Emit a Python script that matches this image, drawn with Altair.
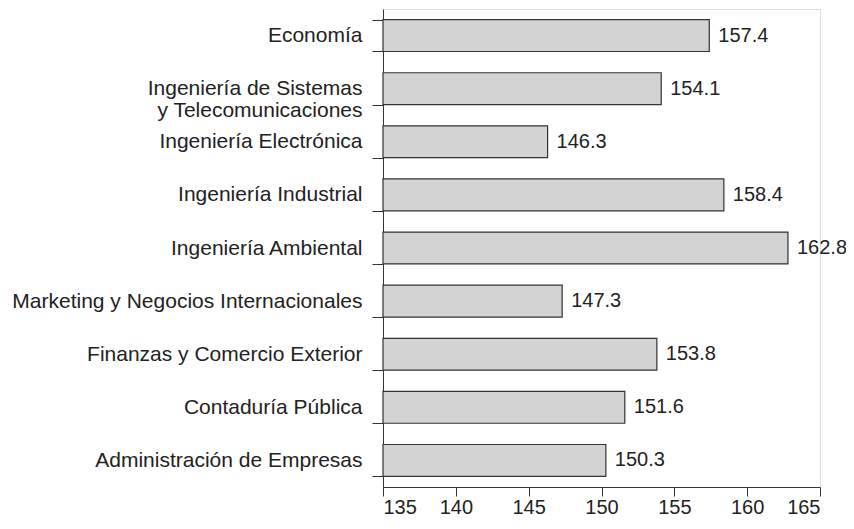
import altair as alt
import pandas as pd

categories = [
    "Economía",
    "Ingeniería de Sistemas|y Telecomunicaciones",
    "Ingeniería Electrónica",
    "Ingeniería Industrial",
    "Ingeniería Ambiental",
    "Marketing y Negocios Internacionales",
    "Finanzas y Comercio Exterior",
    "Contaduría Pública",
    "Administración de Empresas",
]
values = [157.4, 154.1, 146.3, 158.4, 162.8, 147.3, 153.8, 151.6, 150.3]
x_ticks = [135, 140, 145, 150, 155, 160, 165]

df = pd.DataFrame({"carrera": categories, "valor": values})
df["etiqueta"] = df["valor"].map(lambda v: f"{v:.1f}")

FONT = "Liberation Sans"
FS = 21

y_enc = alt.Y(
    "carrera:N",
    sort=categories,
    title=None,
    scale=alt.Scale(paddingInner=0.4, paddingOuter=0.2),
    axis=alt.Axis(
        tickBand="extent",
        labelExpr="split(datum.label, '|')",
        labelFont=FONT,
        labelFontSize=FS,
        labelColor="#222222",
        labelPadding=10,
        tickSize=11,
        tickColor="#333333",
        domainColor="#333333",
        labelLimit=500,
        labelLineHeight=22,
    ),
)

x_enc = alt.X(
    "valor:Q",
    title=None,
    scale=alt.Scale(domain=[135, 165], nice=False, zero=False, clamp=True),
    axis=alt.Axis(
        values=x_ticks,
        grid=False,
        labelFont=FONT,
        labelFontSize=20,
        labelColor="#222222",
        tickSize=9,
        labelPadding=1,
        tickColor="#333333",
        domainColor="#333333",
    ),
)

bars = alt.Chart(df).mark_bar(
    fill="#d3d3d3", stroke="#333333", strokeWidth=1.2
).encode(
    y=y_enc,
    x=x_enc,
    x2=alt.datum(135),
)

labels = alt.Chart(df).mark_text(
    align="left", baseline="middle", dx=9, font=FONT, fontSize=20, color="#222222"
).encode(
    y=alt.Y("carrera:N", sort=categories),
    x=alt.X("valor:Q"),
    text="etiqueta:N",
)

chart = (
    alt.layer(bars, labels)
    .properties(
        width=437,
        height=478,
        autosize=alt.AutoSizeParams(type="none"),
        padding={"left": 375, "top": 1, "right": 26, "bottom": 34},
    )
    .configure_view(stroke=None)
    .configure(background="white")
)

chart.save("out.html", embed_options={"renderer": "svg", "actions": False})
